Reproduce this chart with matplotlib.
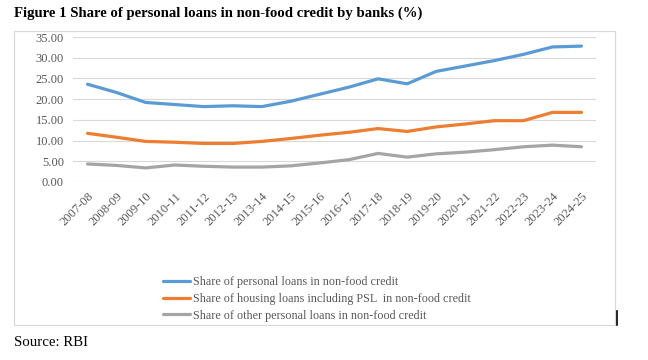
import matplotlib
matplotlib.use("Agg")
import matplotlib.pyplot as plt
from matplotlib.patches import Rectangle
from matplotlib.lines import Line2D

years = ["2007-08", "2008-09", "2009-10", "2010-11", "2011-12", "2012-13", "2013-14",
         "2014-15", "2015-16", "2016-17", "2017-18", "2018-19", "2019-20", "2020-21",
         "2021-22", "2022-23", "2023-24", "2024-25"]
personal = [23.6, 21.6, 19.2, 18.7, 18.2, 18.4, 18.2, 19.5, 21.2, 22.9, 24.9, 23.7,
            26.7, 28.0, 29.3, 30.8, 32.6, 32.8]
housing = [11.75, 10.8, 9.8, 9.6, 9.3, 9.3, 9.8, 10.5, 11.3, 12.0, 12.9, 12.2,
           13.3, 14.0, 14.8, 14.8, 16.8, 16.8]
other = [4.35, 4.0, 3.4, 4.1, 3.8, 3.6, 3.6, 3.9, 4.6, 5.4, 6.9, 6.0,
         6.8, 7.2, 7.8, 8.5, 8.9, 8.5]
labels = ["Share of personal loans in non-food credit",
          "Share of housing loans including PSL  in non-food credit",
          "Share of other personal loans in non-food credit"]
yticks = [0, 5, 10, 15, 20, 25, 30, 35]

W, H = 648, 360
fig = plt.figure(figsize=(6.48, 3.6), dpi=100)
serif = "Liberation Serif"
tc = "#595959"

# outer frame
fig.patches.append(Rectangle((14 / W, 1 - 325 / H), (615 - 14) / W, (325 - 31) / H,
                             transform=fig.transFigure, fill=False, edgecolor="#d9d9d9", lw=0.9))
# small cursor mark at bottom-right of frame
fig.lines.append(Line2D([617 / W, 617 / W], [1 - 325 / H, 1 - 311 / H],
                        transform=fig.transFigure, color="black", lw=1.2))

ax = fig.add_axes([73 / W, 1 - 182 / H, (596 - 73) / W, (182 - 37) / H])
x = list(range(len(years)))
colors = ["#5b9bd5", "#ed7d31", "#a5a5a5"]
for vals, c, lab in zip([personal, housing, other], colors, labels):
    ax.plot(x, vals, color=c, lw=2.3, label=lab, solid_capstyle="round")

ax.set_xlim(-0.5, len(years) - 0.5)
ax.set_ylim(0, 35)
ax.set_yticks(yticks)
ax.set_yticklabels([f"{v:.2f}" for v in yticks], fontfamily=serif, fontsize=9, color=tc)
ax.set_xticks(x)
ax.set_xticklabels(years, rotation=45, ha="right", rotation_mode="anchor",
                   fontfamily=serif, fontsize=9, color=tc)
ax.tick_params(axis="x", length=0, pad=6)
ax.tick_params(axis="y", length=0, pad=6.5)
ax.grid(axis="y", color="#d9d9d9", lw=0.8)
ax.set_axisbelow(True)
for s in ax.spines.values():
    s.set_visible(False)

leg = fig.legend(loc="upper left", bbox_to_anchor=(163 / W, 1 - 276 / H),
                 frameon=False, prop={"family": serif, "size": 8.7},
                 handlelength=2.25, handletextpad=0.25, labelspacing=0.4,
                 borderaxespad=0, borderpad=0)
for t in leg.get_texts():
    t.set_color(tc)

fig.text(14 / W, 1 - 13 / H, "Figure 1 Share of personal loans in non-food credit by banks (%)",
         fontfamily=serif, fontweight="bold", fontsize=10.6, va="center", ha="left")
fig.text(14 / W, 1 - 342 / H, "Source: RBI", fontfamily=serif, fontsize=10.7,
         va="center", ha="left")

fig.savefig("out.png", dpi=100)
